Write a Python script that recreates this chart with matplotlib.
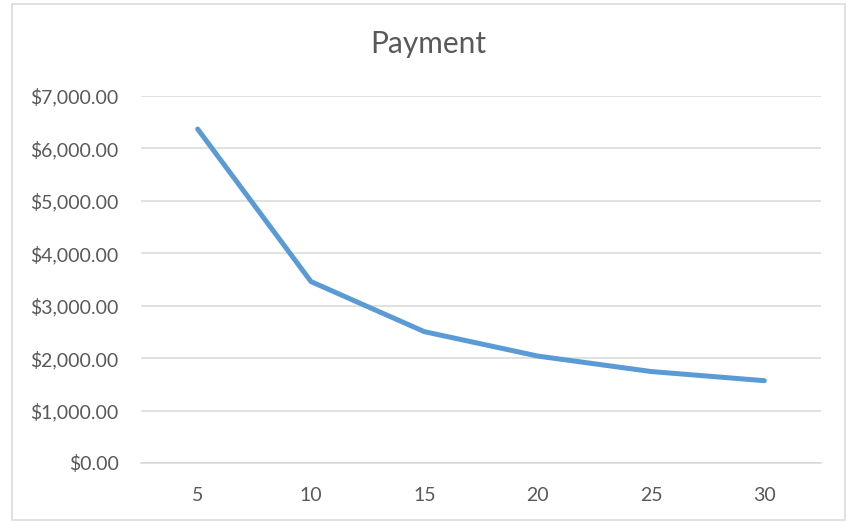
import matplotlib.pyplot as plt
from matplotlib.patches import Rectangle
from matplotlib.ticker import FuncFormatter

plt.rcParams["font.family"] = ["Lato", "DejaVu Sans"]

years = ["5", "10", "15", "20", "25", "30"]
payment = [6370, 3460, 2505, 2040, 1745, 1570]
y_ticks = [0, 1000, 2000, 3000, 4000, 5000, 6000, 7000]

text_color = "#595959"
grid_color = "#d9d9d9"

fig = plt.figure(figsize=(8.5, 5.21), dpi=100)
ax = fig.add_axes([141 / 850, 1 - 463 / 521, 680 / 850, 367 / 521])

x = list(range(len(years)))
ax.plot(x, payment, color="#5b9bd5", linewidth=3.6, solid_capstyle="round",
        solid_joinstyle="round", zorder=3)

ax.set_xlim(-0.5, len(years) - 0.5)
ax.set_ylim(0, 7000)
ax.set_xticks(x)
ax.set_xticklabels(years)
ax.set_yticks(y_ticks)
ax.yaxis.set_major_formatter(FuncFormatter(lambda v, _: f"${v:,.2f}"))

ax.grid(axis="y", color=grid_color, linewidth=1.1)
ax.set_axisbelow(True)
for side in ["top", "right", "left"]:
    ax.spines[side].set_visible(False)
ax.spines["bottom"].set_color(grid_color)
ax.spines["bottom"].set_linewidth(1.1)
ax.tick_params(axis="both", length=0, labelsize=14, labelcolor=text_color)
ax.tick_params(axis="x", pad=17)
ax.tick_params(axis="y", pad=16)

fig.text(428.5 / 850, 1 - 44 / 521, "Payment", ha="center", va="center",
         fontsize=21.5, color=text_color)

# light chart-area border
fig.patches.append(Rectangle((12 / 850, 1 - 520 / 521), 833 / 850, 516 / 521,
                             transform=fig.transFigure, fill=False,
                             edgecolor=grid_color, linewidth=1.1))

fig.savefig("out.png", dpi=100, facecolor="white")
